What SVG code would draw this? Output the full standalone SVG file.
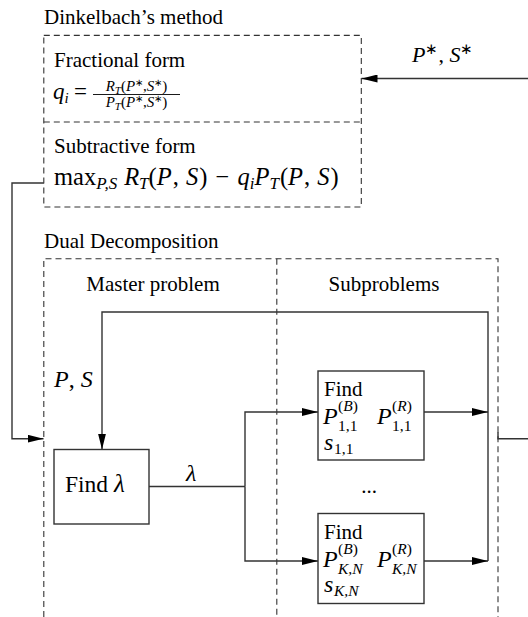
<svg xmlns="http://www.w3.org/2000/svg" width="528" height="617" viewBox="0 0 528 617">
<defs>
<style>
.t{font-family:"Liberation Serif","Times New Roman",serif;font-size:21px;fill:#000}
.m{font-family:"Liberation Serif","Times New Roman",serif;font-size:24px;font-style:italic;fill:#000}
.s{font-size:15px}
.ss{font-family:"Liberation Serif","Times New Roman",serif;font-size:15.5px;fill:#000}
.fr{font-family:"Liberation Serif","Times New Roman",serif;font-size:15px;fill:#000}
.up{font-style:normal}
.it{font-style:italic}
.dash{fill:none;stroke:#333;stroke-width:1.1;stroke-dasharray:6,4}
.ln{fill:none;stroke:#333;stroke-width:1.4}
.box{fill:#fff;stroke:#333;stroke-width:1.4}
</style>
<marker id="ah" markerUnits="userSpaceOnUse" markerWidth="16" markerHeight="8" refX="16" refY="4" orient="auto">
<path d="M0,0 L16,4 L0,8 z" fill="#000"/>
</marker>
</defs>

<g id="dinkelbach">
<text class="t" x="44" y="24">Dinkelbach’s method</text>
<rect class="dash" x="43.8" y="35.4" width="317.5" height="171.6"/>
<path class="dash" d="M43.8,122 H361.3"/>
</g>

<g id="fractional">
<text class="t" x="54" y="67">Fractional form</text>
<text class="m" x="53" y="99" style="font-size:23px">q<tspan class="s" dy="4">i</tspan></text>
<text class="t" x="74" y="99" style="font-size:23px">=</text>
<text class="fr" x="136.5" y="91" text-anchor="middle"><tspan class="it">R</tspan><tspan class="it" font-size="11" dy="3">T</tspan><tspan dy="-3">(</tspan><tspan class="it">P</tspan><tspan font-size="10" dy="-5">∗</tspan><tspan dy="5">,</tspan><tspan class="it">S</tspan><tspan font-size="10" dy="-5">∗</tspan><tspan dy="5">)</tspan></text>
<line x1="93" y1="94.5" x2="180" y2="94.5" stroke="#000" stroke-width="0.9"/>
<text class="fr" x="136.5" y="107" text-anchor="middle"><tspan class="it">P</tspan><tspan class="it" font-size="11" dy="3">T</tspan><tspan dy="-3">(</tspan><tspan class="it">P</tspan><tspan font-size="10" dy="-5">∗</tspan><tspan dy="5">,</tspan><tspan class="it">S</tspan><tspan font-size="10" dy="-5">∗</tspan><tspan dy="5">)</tspan></text>
</g>

<g id="subtractive">
<text class="t" x="54" y="153">Subtractive form</text>
<text class="t" x="54" y="185" style="font-size:24.5px">max<tspan class="it" font-size="17" dy="4">P,S</tspan><tspan class="it" dy="-4" dx="7">R</tspan><tspan class="it" font-size="17" dy="4">T</tspan><tspan dy="-4">(</tspan><tspan class="it">P</tspan><tspan dx="1">, </tspan><tspan class="it" dx="1">S</tspan><tspan dx="1">) </tspan><tspan dx="2">− </tspan><tspan class="it" dx="2">q</tspan><tspan class="it" font-size="17" dy="4">i</tspan><tspan class="it" dy="-4">P</tspan><tspan class="it" font-size="17" dy="4">T</tspan><tspan dy="-4" dx="1">(</tspan><tspan class="it">P</tspan><tspan dx="1">, </tspan><tspan class="it" dx="1">S</tspan><tspan dx="1">)</tspan></text>
</g>

<g id="dual">
<text class="t" x="44" y="248">Dual Decomposition</text>
<path class="dash" d="M43.8,617 V258.7 H498 V617"/>
<path class="dash" d="M276.8,258.7 V617"/>
<text class="t" x="153" y="291" text-anchor="middle">Master problem</text>
<text class="t" x="384" y="291" text-anchor="middle">Subproblems</text>
</g>

<g id="connectors">
<path class="ln" d="M528,78.5 H361.5" marker-end="url(#ah)"/>
<path class="ln" d="M43.8,183 H12 V438.7 H43.5" marker-end="url(#ah)"/>
<path class="ln" d="M498,432 V438.7 H528"/>
<path class="ln" d="M488,561 V312 H102 V449.5" marker-end="url(#ah)"/>
<path class="ln" d="M149,486.5 H245"/>
<path class="ln" d="M245,486.5 V412 H318" marker-end="url(#ah)"/>
<path class="ln" d="M245,486.5 V561 H318" marker-end="url(#ah)"/>
<path class="ln" d="M424,412 H488" marker-end="url(#ah)"/>
<path class="ln" d="M424,561 H488" marker-end="url(#ah)"/>
<text class="m" x="412" y="62" style="font-size:22px">P<tspan class="s up" dy="-8">∗</tspan><tspan class="up" dy="8">, </tspan>S<tspan class="s up" dy="-8">∗</tspan></text>
<text class="m" x="54" y="387">P<tspan class="up">, </tspan>S</text>
<text class="m" x="186" y="481">λ</text>
</g>

<g id="find-lambda">
<rect class="box" x="54" y="449.5" width="95" height="74.5"/>
<text class="t" x="65" y="492" style="font-size:23.5px">Find <tspan class="it" font-size="25">λ</tspan></text>
</g>

<g id="sub-1-1">
<rect class="box" x="318" y="371" width="106" height="89"/>
<text class="t" x="324" y="396">Find</text>
<text class="m" x="323" y="424">P</text>
<text class="ss" x="338" y="410.5">(<tspan class="it">B</tspan>)</text>
<text class="ss" x="338" y="431">1,1</text>
<text class="m" x="377" y="424">P</text>
<text class="ss" x="392" y="410.5">(<tspan class="it">R</tspan>)</text>
<text class="ss" x="392" y="431">1,1</text>
<text class="m" x="324" y="450">s</text>
<text class="ss" x="334" y="454">1,1</text>
</g>

<text class="t" x="369" y="493" text-anchor="middle">...</text>

<g id="sub-k-n">
<rect class="box" x="318" y="513.5" width="106" height="90"/>
<text class="t" x="324" y="539">Find</text>
<text class="m" x="323" y="567">P</text>
<text class="ss" x="338" y="553.5">(<tspan class="it">B</tspan>)</text>
<text class="ss it" x="338" y="574">K,N</text>
<text class="m" x="377" y="567">P</text>
<text class="ss" x="392" y="553.5">(<tspan class="it">R</tspan>)</text>
<text class="ss it" x="392" y="574">K,N</text>
<text class="m" x="324" y="592">s</text>
<text class="ss it" x="334" y="596">K,N</text>
</g>
</svg>
